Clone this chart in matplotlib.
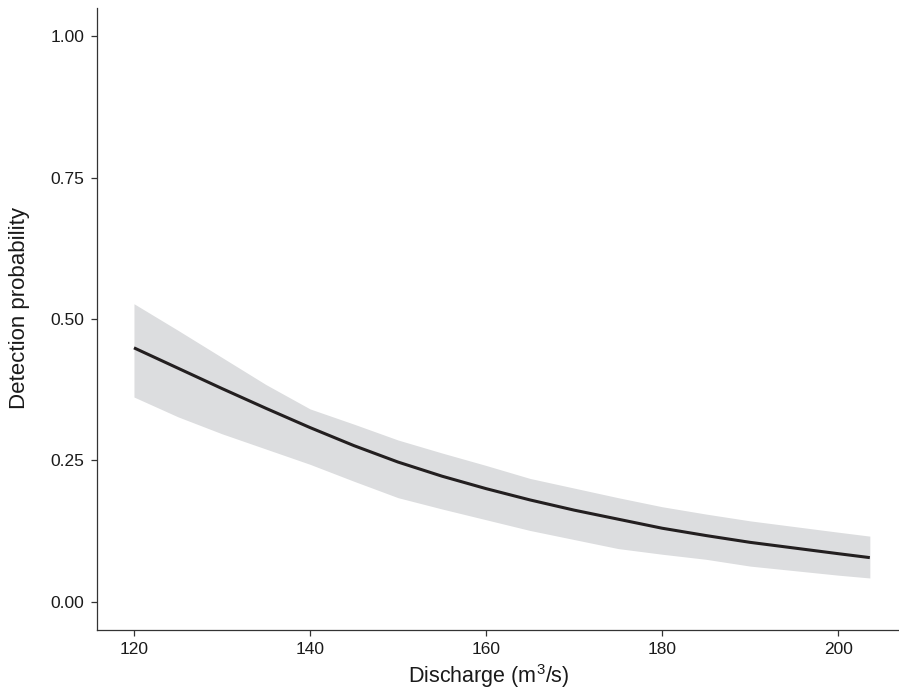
import matplotlib
matplotlib.use("Agg")
import matplotlib.pyplot as plt

discharge = [120, 125, 130, 135, 140, 145, 150, 155, 160, 165, 170, 175, 180, 185, 190, 195, 200, 203.6]
fit = [0.449, 0.413, 0.377, 0.342, 0.308, 0.276, 0.247, 0.222, 0.200, 0.180, 0.162, 0.146, 0.130, 0.117, 0.105, 0.095, 0.085, 0.078]
upper = [0.527, 0.480, 0.432, 0.384, 0.341, 0.314, 0.286, 0.263, 0.241, 0.218, 0.201, 0.184, 0.168, 0.155, 0.143, 0.133, 0.123, 0.116]
lower = [0.362, 0.327, 0.297, 0.270, 0.243, 0.213, 0.184, 0.164, 0.145, 0.126, 0.110, 0.094, 0.084, 0.075, 0.063, 0.055, 0.047, 0.042]

xticks = [120, 140, 160, 180, 200]
yticks = [0.0, 0.25, 0.5, 0.75, 1.0]
ytick_labels = ["0.00", "0.25", "0.50", "0.75", "1.00"]

plt.rcParams['font.family'] = ['Liberation Sans', 'DejaVu Sans']
plt.rcParams['mathtext.fontset'] = 'custom'
plt.rcParams['mathtext.rm'] = 'Liberation Sans'
plt.rcParams['mathtext.it'] = 'Liberation Sans:italic'

fig = plt.figure(figsize=(8.99, 6.91), dpi=100)
ax = fig.add_axes([97/899, 1-630/691, (898-97)/899, (630-8)/691])

ax.fill_between(discharge, lower, upper, color='#dcdddf', linewidth=0)
ax.plot(discharge, fit, color='#231f20', linewidth=2.2, solid_capstyle='butt',
        solid_joinstyle='round')

ax.set_xlim(115.8, 206.8)
ax.set_ylim(-0.05, 1.05)
ax.set_xticks(xticks)
ax.set_yticks(yticks)
ax.set_yticklabels(ytick_labels)

for side in ['top', 'right']:
    ax.spines[side].set_visible(False)
for side in ['left', 'bottom']:
    ax.spines[side].set_color('#333333')
    ax.spines[side].set_linewidth(0.9)

ax.tick_params(axis='both', direction='out', length=4, width=0.9, color='#333333',
               labelsize=12.5, labelcolor='#1a1a1a', pad=5)

ax.set_xlabel(r'Discharge (m$^\mathregular{3}$/s)', fontsize=15.5, color='#1a1a1a')
ax.set_ylabel('Detection probability', fontsize=16, color='#1a1a1a')
ax.xaxis.set_label_coords(0.489, -0.052)
ax.yaxis.set_label_coords(-0.084, 0.517)

fig.savefig('out.png', dpi=100, facecolor='white')
